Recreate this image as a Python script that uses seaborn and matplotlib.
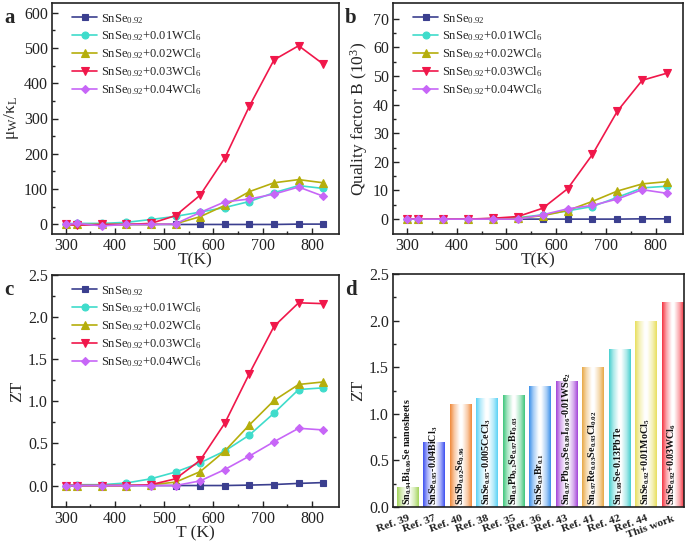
import numpy as np
import pandas as pd
import matplotlib
matplotlib.use("Agg")
import matplotlib.pyplot as plt
import seaborn as sns
from matplotlib.colors import LinearSegmentedColormap, to_rgb

# ---------------- data ----------------
temps = [300, 323, 373, 423, 473, 523, 573, 623, 673, 723, 773, 823]
series_names = ["SnSe$_{0.92}$", "SnSe$_{0.92}$+0.01WCl$_6$", "SnSe$_{0.92}$+0.02WCl$_6$",
                "SnSe$_{0.92}$+0.03WCl$_6$", "SnSe$_{0.92}$+0.04WCl$_6$"]

mu_kl_x000 = [0, 0, 0, 0, 0, 0, 0, 0, 0, 0, 1, 1]
mu_kl_x001 = [2, 3, 3, 6, 14, 23, 35, 48, 65, 90, 110, 102]
mu_kl_x002 = [0, 0, 0, 0, 0, 2, 22, 54, 93, 118, 127, 118]
mu_kl_x003 = [0, -2, 0, 0, 3, 25, 83, 188, 335, 466, 506, 454]
mu_kl_x004 = [0, 3, -4, 0, 0, 2, 34, 64, 72, 86, 106, 80]

qb_x000 = [0, 0, 0, 0, 0, 0, 0, 0, 0, 0, 0.1, 0.1]
qb_x001 = [0, 0, 0, 0, 0.2, 0.5, 1.5, 2.9, 4.4, 7.6, 10.9, 11.5]
qb_x002 = [0, 0, 0, 0, 0, 0.3, 1.2, 3.0, 6.2, 9.8, 12.3, 13.1]
qb_x003 = [0, 0, 0, 0, 0.3, 0.9, 3.8, 10.6, 22.6, 37.7, 48.5, 51.0]
qb_x004 = [0, 0, 0, 0, 0, 0, 1.5, 3.6, 4.8, 7.0, 10.3, 9.0]

zt_x000 = [0, 0, 0, 0, 0, 0, 0, 0, 0.005, 0.012, 0.025, 0.035]
zt_x001 = [0.0, 0.01, 0.01, 0.03, 0.08, 0.16, 0.27, 0.41, 0.60, 0.86, 1.14, 1.16]
zt_x002 = [0, 0, 0, 0, 0.01, 0.04, 0.165, 0.41, 0.72, 1.01, 1.20, 1.23]
zt_x003 = [0, 0, 0, 0, 0.01, 0.08, 0.30, 0.74, 1.33, 1.89, 2.17, 2.16]
zt_x004 = [0, 0, 0, 0, 0, 0, 0.055, 0.19, 0.35, 0.52, 0.68, 0.66]

refs = ["Ref. 39", "Ref. 37", "Ref. 40", "Ref. 38", "Ref. 35", "Ref. 36",
        "Ref. 43", "Ref. 41", "Ref. 42", "Ref. 44", "This work"]
ref_zt = [0.21, 0.70, 1.10, 1.17, 1.20, 1.30, 1.35, 1.50, 1.70, 2.00, 2.20]
ref_materials = [
    "Sn$_{0.94}$Bi$_{0.06}$Se nanosheets",
    "SnSe$_{0.95}$-0.04BiCl$_3$",
    "SnSb$_{0.02}$Se$_{0.96}$",
    "SnSe$_{0.95}$-0.005CeCl$_3$",
    "Sn$_{0.9}$Pb$_{0.1}$Se$_{0.97}$Br$_{0.03}$",
    "SnSe$_{0.9}$Br$_{0.1}$",
    "Sn$_{0.97}$Pb$_{0.03}$Se$_{0.89}$I$_{0.06}$-0.01WSe$_2$",
    "Sn$_{0.97}$Re$_{0.03}$Se$_{0.93}$Cl$_{0.02}$",
    "Sn$_{1.08}$Se-0.13PbTe",
    "SnSe$_{0.92}$+0.01MoCl$_5$",
    "SnSe$_{0.92}$+0.03WCl$_6$",
]

# ---------------- style ----------------
line_colors = ["#3b3f8f", "#3fdccb", "#b5ae0c", "#f0174a", "#c766f7"]
line_markers = ["s", "o", "^", "v", "D"]
marker_sizes = [4.2, 5, 5.5, 5.5, 4.5]
bar_colors = ["#a3d45a", "#3c4ff0", "#f08838", "#5ad2f5", "#3cc67a", "#3a8fea",
              "#a444d8", "#e8a844", "#45cfcf", "#e8df5c", "#f53340"]

sns.set_theme(style="ticks")
plt.rcParams["font.family"] = ["Liberation Serif", "DejaVu Serif"]
plt.rcParams["mathtext.fontset"] = "custom"
plt.rcParams["mathtext.rm"] = "Liberation Serif"
plt.rcParams["mathtext.it"] = "Liberation Serif:italic"
plt.rcParams["mathtext.bf"] = "Liberation Serif:bold"
plt.rcParams["mathtext.default"] = "regular"
plt.rcParams["axes.edgecolor"] = "#222222"
plt.rcParams["axes.linewidth"] = 1.2
plt.rcParams["xtick.direction"] = "in"
plt.rcParams["ytick.direction"] = "in"
plt.rcParams["xtick.color"] = "#222222"
plt.rcParams["ytick.color"] = "#222222"

W, H = 685, 543
fig = plt.figure(figsize=(W / 100, H / 100), dpi=100)


def px_axes(l, t, r, b):
    return fig.add_axes([l / W, 1 - b / H, (r - l) / W, (b - t) / H])


ax_a = px_axes(52, 3, 339, 234)
ax_b = px_axes(393, 3, 683, 234)
ax_c = px_axes(52, 275, 339, 507)
ax_d = px_axes(393, 274, 684, 507)

tick_fs = 11.5
label_fs = 12.5


def line_panel(ax, ys, ylim, yticks, ylabel, xlabel):
    for name, y, c, m, ms in zip(series_names, ys, line_colors, line_markers, marker_sizes):
        df = pd.DataFrame({"T": temps, "v": y})
        sns.lineplot(data=df, x="T", y="v", ax=ax, color=c, marker=m, markersize=ms,
                     markeredgecolor=c, markeredgewidth=0.8, linewidth=1.2, label=name)
    ax.set_xlim(272, 855)
    ax.set_ylim(*ylim)
    ax.set_xticks([300, 400, 500, 600, 700, 800])
    ax.set_xticks([350, 450, 550, 650, 750], minor=True)
    ax.set_yticks(yticks)
    ax.set_yticks([(yticks[i] + yticks[i + 1]) / 2 for i in range(len(yticks) - 1)], minor=True)
    ax.tick_params(which="major", length=4, width=1, labelsize=tick_fs, pad=3)
    ax.tick_params(which="minor", length=2.5, width=1)
    ax.set_xlabel(xlabel, fontsize=label_fs, labelpad=-1)
    ax.set_ylabel(ylabel, fontsize=label_fs, labelpad=2)
    leg = ax.legend(loc="upper left", frameon=False, fontsize=9, handlelength=2.0,
                    handletextpad=0.3, labelspacing=0.25, borderaxespad=0.3,
                    bbox_to_anchor=(0.04, 1.0))
    return leg


line_panel(ax_a, [mu_kl_x000, mu_kl_x001, mu_kl_x002, mu_kl_x003, mu_kl_x004],
           (-27, 627), [0, 100, 200, 300, 400, 500, 600], r"$\mu_W/\kappa_L$", "T(K)")
line_panel(ax_b, [qb_x000, qb_x001, qb_x002, qb_x003, qb_x004],
           (-5.2, 75.5), [0, 10, 20, 30, 40, 50, 60, 70], "Quality factor B (10$^3$)", "T(K)")
line_panel(ax_c, [zt_x000, zt_x001, zt_x002, zt_x003, zt_x004],
           (-0.255, 2.5), [0.0, 0.5, 1.0, 1.5, 2.0, 2.5], "ZT", "T (K)")
ax_c.set_yticklabels([f"{v:.1f}" for v in [0.0, 0.5, 1.0, 1.5, 2.0, 2.5]])

# ---------------- panel d ----------------
sns.barplot(x=refs, y=ref_zt, hue=refs, palette=bar_colors, legend=False, width=0.8,
            ax=ax_d, saturation=1)
ax_d.set_xlim(-0.55, 10.45)
ax_d.set_ylim(0, 2.5)
ax_d.set_yticks([0.0, 0.5, 1.0, 1.5, 2.0, 2.5])
ax_d.set_yticklabels([f"{v:.1f}" for v in [0.0, 0.5, 1.0, 1.5, 2.0, 2.5]])
ax_d.set_yticks([0.25, 0.75, 1.25, 1.75, 2.25], minor=True)
ax_d.tick_params(axis="y", which="major", length=4, width=1, labelsize=tick_fs, pad=3)
ax_d.tick_params(axis="y", which="minor", length=2.5, width=1)
ax_d.tick_params(axis="x", length=0, pad=5)
ax_d.set_ylabel("ZT", fontsize=label_fs, labelpad=2)
ax_d.set_xlabel("")
for lab in ax_d.get_xticklabels():
    lab.set_rotation(20)
    lab.set_ha("right")
    lab.set_va("top")
    lab.set_rotation_mode("anchor")
    lab.set_fontweight("bold")
    lab.set_fontsize(8.2)

grad = np.linspace(0, 1, 256).reshape(1, -1)
for patch, col, mat in zip(ax_d.patches, bar_colors, ref_materials):
    x0, y0 = patch.get_x(), patch.get_y()
    w, h = patch.get_width(), patch.get_height()
    rgb = np.array(to_rgb(col))
    light = 1 - (1 - rgb) * 0.45
    cmap = LinearSegmentedColormap.from_list(
        "g", [(0, rgb), (0.2, light), (0.45, (1, 1, 1)), (0.55, (1, 1, 1)), (0.8, light), (1, rgb)])
    patch.set_facecolor("none")
    patch.set_edgecolor("none")
    im = ax_d.imshow(grad, cmap=cmap, aspect="auto", extent=(x0, x0 + w, y0, y0 + h),
                     zorder=patch.get_zorder(), interpolation="bilinear")
    im.set_clip_path(patch)
    ax_d.text(x0 + w / 2, 0.025, mat, rotation=90, ha="center", va="bottom",
              fontsize=7.2, fontweight="bold", color="#111111", zorder=5)
ax_d.set_xlim(-0.55, 10.45)
ax_d.set_ylim(0, 2.5)

# panel letters
for lx, ly, letter in [(4, 18, "a"), (345, 18, "b"), (4, 290, "c"), (345, 290, "d")]:
    fig.text(lx / W, 1 - ly / H, letter, fontsize=15, fontweight="bold", va="center", ha="left")

for ax in (ax_a, ax_b, ax_c, ax_d):
    for s in ax.spines.values():
        s.set_visible(True)
        s.set_linewidth(1.2)

fig.savefig("out.png", dpi=100)
